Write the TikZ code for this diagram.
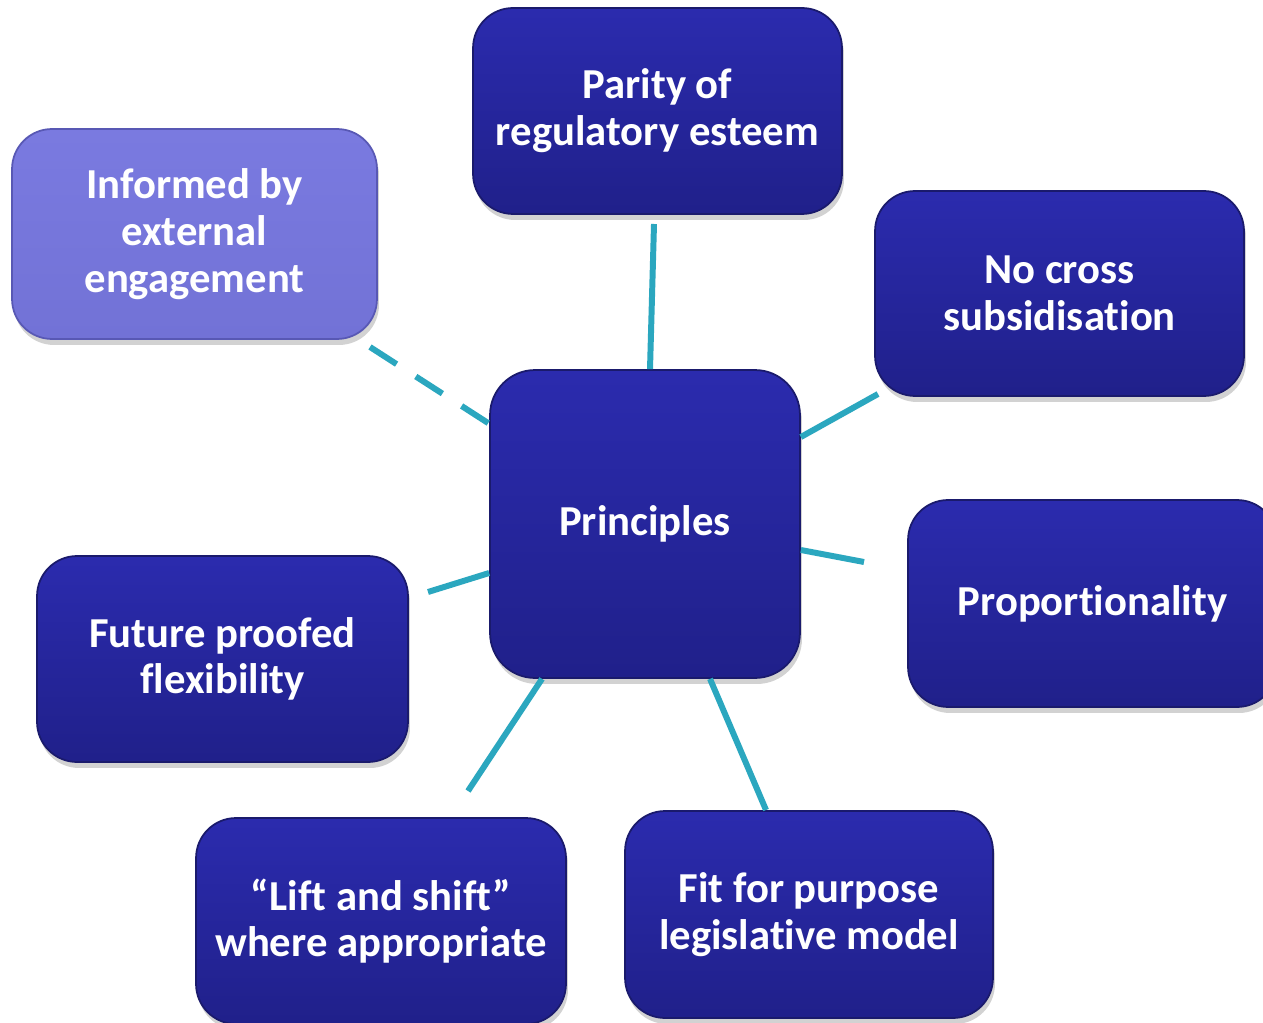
\documentclass[tikz,border=0pt]{standalone}
\usepackage{fontspec}
\setmainfont[Ligatures=NoCommon,Contextuals=NoAlternate]{Carlito}
\usetikzlibrary{shadows,calc}
\definecolor{boxtop}{HTML}{2B2BAE}
\definecolor{boxbot}{HTML}{20208A}
\definecolor{boxedge}{HTML}{1A1A6C}
\definecolor{lighttop}{HTML}{7A7AE0}
\definecolor{lightbot}{HTML}{7272D6}
\definecolor{lightedge}{HTML}{5858B4}
\definecolor{conn}{HTML}{2BA7BF}
\begin{document}
\begin{tikzpicture}[x=0.02cm,y=-0.02cm,
  box/.style={rounded corners=0.8cm, draw=boxedge, line width=1pt,
    top color=boxtop, bottom color=boxbot, align=center, text=white,
    font=\fontsize{24.3}{26.6}\selectfont\bfseries, inner sep=0pt,
    drop shadow={shadow xshift=0.04cm, shadow yshift=-0.12cm, opacity=0.35}},
  lightbox/.style={box, draw=lightedge, top color=lighttop, bottom color=lightbot},
  link/.style={draw=conn, line width=3.4pt},
  dashlink/.style={link, dash pattern=on 18pt off 13pt}]
\useasboundingbox (0,0) rectangle (1263,1023);
\clip (0,0) rectangle (1263,1023);
\fill[white] (0,0) rectangle (1263,1023);

\node[box, minimum width=7.38cm, minimum height=4.12cm] (parity) at (657.5,111) {Parity of\\regulatory esteem};
\node[lightbox, minimum width=7.3cm, minimum height=4.2cm] (informed) at (194.5,234) {Informed by\\external\\engagement};
\node[box, minimum width=7.38cm, minimum height=4.1cm] (nocross) at (1059.5,293.5) {No cross\\subsidisation};
\node[box, rounded corners=0.9cm, minimum width=6.2cm, minimum height=6.16cm] (pr) at (645,524) {Principles};
\node[box, minimum width=7.38cm, minimum height=4.14cm] (prop) at (1092.5,603.5) {Proportionality};
\node[box, minimum width=7.42cm, minimum height=4.12cm] (future) at (222.5,659) {Future proofed\\flexibility};
\node[box, minimum width=7.4cm, minimum height=4.12cm] (lift) at (381,921) {“Lift and shift”\\where appropriate};
\node[box, minimum width=7.36cm, minimum height=4.14cm] (fit) at (809,914.5) {Fit for purpose\\legislative model};

\coordinate (e1) at (654,224);
\coordinate (e2) at (878,394);
\coordinate (e3) at (864,562);
\coordinate (e4) at (766,810);
\coordinate (e5) at (468,791);
\coordinate (e6) at (428,592);
\coordinate (e7) at (370,347);

\draw[link] ($(pr.north)+(5,0)$) -- (e1);
\draw[link] ($(pr.east)+(0,-87)$) -- (e2);
\draw[link] ($(pr.east)+(0,26)$) -- (e3);
\draw[link] ($(pr.south)+(65,0)$) -- (e4);
\draw[link] ($(pr.south)+(-103,0)$) -- (e5);
\draw[link] ($(pr.west)+(0,49)$) -- (e6);
\draw[dashlink] (e7) -- ($(pr.west)+(2,-99)$);
\end{tikzpicture}
\end{document}
